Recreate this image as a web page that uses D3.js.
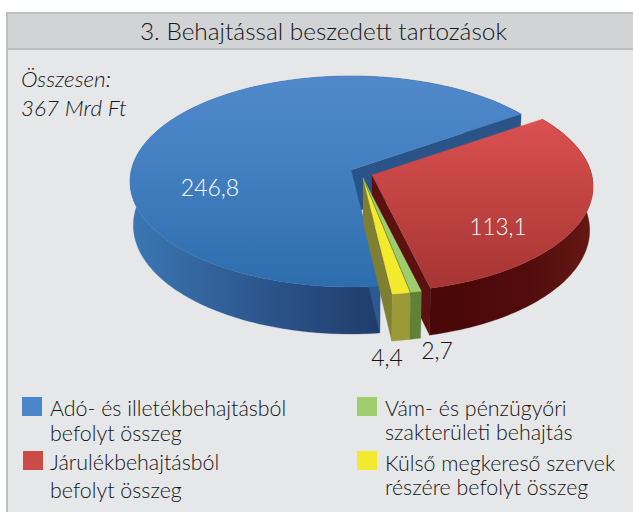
<!DOCTYPE html>
<html><head><meta charset="utf-8">
<script src="https://cdn.jsdelivr.net/npm/d3@7/dist/d3.min.js"></script>
<style>html,body{margin:0;padding:0;background:#fff;overflow:hidden}svg{display:block}text{font-family:Lato,sans-serif;font-weight:300;fill:#151516}</style>
</head><body><svg id="c" width="633" height="512"></svg>
<script>
(function(){
const title = "3. Behajtással beszedett tartozások";
const totalLines = ["Összesen:", "367 Mrd Ft"];
const categories = ["Adó- és illetékbehajtásból befolyt összeg", "Járulékbehajtásból befolyt összeg", "Vám- és pénzügyőri szakterületi behajtás", "Külső megkereső szervek részére befolyt összeg"];
const values = [246.8, 113.1, 2.7, 4.4];
const valueLabels = ["246,8", "113,1", "2,7", "4,4"];
const swatchColors = ["#4a86c8", "#cb4b47", "#9fcd6e", "#f3ea2e"];

const svg = d3.select("#c");
const defs = svg.append("defs");
function grad(id, dir, x1, x2, stops){
  const g = defs.append("linearGradient").attr("id", id).attr("gradientUnits", "userSpaceOnUse");
  if(dir === "h") g.attr("x1", x1).attr("x2", x2).attr("y1", 0).attr("y2", 0);
  else g.attr("x1", 0).attr("x2", 0).attr("y1", x1).attr("y2", x2);
  stops.forEach(s => g.append("stop").attr("offset", s[0]).attr("stop-color", s[1]));
}
grad("blueTop", "v", 76, 287, [[0, "#5089ca"], [0.4, "#4480c2"], [1, "#2d6dad"]]);
grad("blueSide", "h", 130, 380, [[0, "#3b78b4"], [0.45, "#2f5a92"], [1, "#1f3c6b"]]);
grad("redTop", "v", 118, 288, [[0, "#da5150"], [1, "#a63533"]]);
grad("redSide", "h", 430, 592, [[0, "#490707"], [0.6, "#520c0c"], [1, "#641814"]]);

// panel
svg.append("rect").attr("x", 7).attr("y", 13).attr("width", 626).attr("height", 499).attr("fill", "#e6e7e8");
svg.append("rect").attr("x", 7).attr("y", 13).attr("width", 626).attr("height", 37).attr("fill", "#d1d3d4");
svg.append("rect").attr("x", 7).attr("y", 12).attr("width", 626).attr("height", 2).attr("fill", "#bcbec0");
svg.append("rect").attr("x", 7).attr("y", 48).attr("width", 626).attr("height", 2).attr("fill", "#bcbec0");
svg.append("rect").attr("x", 6).attr("y", 12).attr("width", 2).attr("height", 500).attr("fill", "#bcbec0");

svg.append("text").attr("x", 323.5).attr("y", 40).attr("text-anchor", "middle").attr("font-size", 24.4).text(title);
totalLines.forEach((t, i) => svg.append("text").attr("x", 21).attr("y", 87 + i * 29).attr("font-size", 22.5).attr("font-style", "italic").text(t));

// 3D pie: d3.pie angles, projected with a perspective ground plane
const deg = Math.PI / 180;
const arcs = d3.pie().sort(null).startAngle(173.2 * deg).endAngle((173.2 + 360) * deg)(values);
const R = 219.7, T = 104.2, P = 0.109, DEPTH = 43.5, BOTTOM_SCALE = 0.985;
const line = d3.line();
function project(apex, r, th, low){
  const X = r * Math.sin(th), Y = r * Math.cos(th);
  const s = 1 / (1 + P * Y), k = low ? BOTTOM_SCALE : 1;
  return [apex[0] + X * R * s * k, apex[1] - Y * T * s * k + (low ? DEPTH * s : 0)];
}
function rim(apex, a0, a1, low){
  const n = Math.max(2, Math.ceil(Math.abs(a1 - a0) / deg));
  return d3.range(n + 1).map(i => project(apex, 1, a0 + (a1 - a0) * i / n, low));
}
const face = (ap, a) => line([ap, ...rim(ap, a.startAngle, a.endAngle, false)]) + "Z";
const side = (ap, a) => line([...rim(ap, a.startAngle, a.endAngle, false), ...rim(ap, a.endAngle, a.startAngle, true)]) + "Z";
const wall = (ap, th) => line([ap, project(ap, 1, th, false), project(ap, 1, th, true), project(ap, 0, th, true)]) + "Z";
const P_ = (d, fill) => svg.append("path").attr("d", d).attr("fill", fill).attr("stroke", fill).attr("stroke-width", 0.3);

const [aBlue, aRed, aGreen, aYellow] = arcs;
const apBlue = [351, 170], apRed = [372, 175], apSmall = [363, 178];

// blue
P_(side(apBlue, aBlue), "url(#blueSide)");
P_(wall(apBlue, aBlue.endAngle), "#2a5488");
P_(wall(apBlue, aBlue.startAngle), "#2c5a90");
P_(face(apBlue, aBlue), "url(#blueTop)");
// red
P_(wall(apRed, aRed.endAngle), "#5a1110");
P_(side(apRed, aRed), "url(#redSide)");
P_(face(apRed, aRed), "url(#redTop)");
// yellow
P_(wall(apSmall, aYellow.endAngle), "#7f7f33");
P_(side(apSmall, aYellow), "#9b9a36");
P_(face(apSmall, aYellow), "#f3e92d");
// green
P_(side(apSmall, aGreen), "#5f8238");
P_(face(apSmall, aGreen), "#9fcd6e");
svg.append("path").attr("d", line([apSmall, project(apSmall, 1, aGreen.endAngle, false)])).attr("stroke", "#6f8f3c").attr("stroke-width", 0.8).attr("fill", "none");

// value labels
svg.append("text").attr("x", 210).attr("y", 196).attr("text-anchor", "middle").attr("font-size", 23).style("fill", "#fff").text(valueLabels[0]);
svg.append("text").attr("x", 498).attr("y", 235).attr("text-anchor", "middle").attr("font-size", 22.5).style("fill", "#fff").text(valueLabels[1]);
svg.append("text").attr("x", 437).attr("y", 359).attr("text-anchor", "middle").attr("font-size", 23).text(valueLabels[2]);
svg.append("text").attr("x", 387).attr("y", 366).attr("text-anchor", "middle").attr("font-size", 23).text(valueLabels[3]);

// legend
const legendLines = [
  ["Adó- és illetékbehajtásból", "befolyt összeg"],
  ["Járulékbehajtásból", "befolyt összeg"],
  ["Vám- és pénzügyőri", "szakterületi behajtás"],
  ["Külső megkereső szervek", "részére befolyt összeg"]
];
const lx = [22, 23, 357, 357], ly = [397, 451, 397, 451];
const tx = [50, 50, 385, 385], b1 = [416, 470, 416, 471], b2 = [441, 498, 440, 495];
categories.forEach((c, i) => {
  svg.append("rect").attr("x", lx[i]).attr("y", ly[i]).attr("width", 20).attr("height", 19).attr("fill", swatchColors[i]);
  svg.append("text").attr("x", tx[i]).attr("y", b1[i]).attr("font-size", 21.4).text(legendLines[i][0]);
  svg.append("text").attr("x", tx[i]).attr("y", b2[i]).attr("font-size", 21.4).text(legendLines[i][1]);
});
})();
</script></body></html>
